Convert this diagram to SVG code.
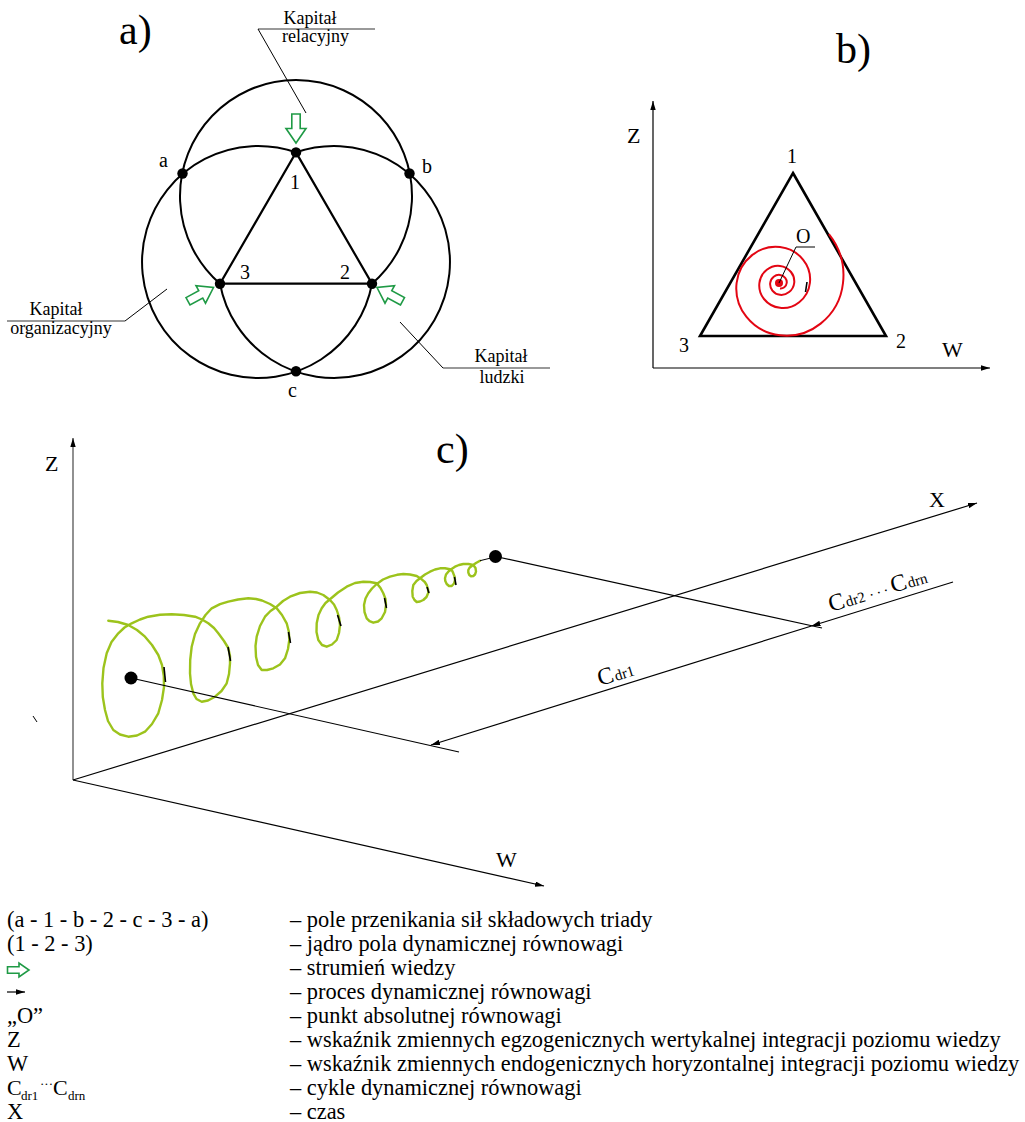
<svg xmlns="http://www.w3.org/2000/svg" width="1025" height="1122" viewBox="0 0 1025 1122" font-family="Liberation Serif, Times New Roman, serif">
<defs>
<style>
text, tspan{font-family:'Liberation Serif','Times New Roman',serif;fill:#000}
.c{fill:none;stroke:#000;stroke-width:2}
.tri{fill:none;stroke:#000;stroke-width:2.2;stroke-linejoin:miter}
.ln{fill:none;stroke:#000;stroke-width:1.2}
.lead{fill:none;stroke:#000;stroke-width:1}
.shelf{fill:none;stroke:#777;stroke-width:1.6}
.ga{fill:#fff;stroke:#1f9a45;stroke-width:1.6;stroke-linejoin:miter}
.lbl{font-family:'Liberation Serif',serif;font-size:20px}
.cap{font-family:'Liberation Serif',serif;font-size:18px;text-anchor:middle}
.ttl{font-family:'Liberation Serif',serif;font-size:42px}
.ax{font-family:'Liberation Serif',serif;font-size:22px}
.leg{font-family:'Liberation Serif',serif;font-size:22.4px}
.tick{stroke:#000;stroke-width:1.6;fill:none}
</style>
<marker id="ah" viewBox="0 0 10 6" refX="10" refY="3" markerWidth="9" markerHeight="5.4" markerUnits="userSpaceOnUse" orient="auto"><path d="M0,0 L10,3 L0,6 z" fill="#000"/></marker>
<path id="garrow" d="M-29,-4.2 H-14.5 V-10 L0,0 L-14.5,10 V4.2 H-29 Z"/>
</defs>
<rect width="1025" height="1122" fill="#fff"/>

<!-- ===== a) ===== -->
<g id="panel-a">
<text class="ttl" x="119" y="44">a)</text>
<g id="circle-relacyjny"><path class="c" d="M220,283.7 A116 116 0 1 1 372,283.7"/></g>
<g id="circle-organizacyjny"><path class="c" d="M296,152.4 A116 116 0 1 0 372,283.7"/></g>
<g id="circle-ludzki"><path class="c" d="M296,152.4 A116 116 0 1 1 220,283.7"/></g>
<g id="triangle-123"><path class="tri" d="M296,152.4 L372,283.7 L220,283.7 Z"/></g>
<g id="point-a"><circle cx="182.5" cy="173.5" r="5.2"/><text class="lbl" x="159" y="167">a</text></g>
<g id="point-b"><circle cx="409.5" cy="173.5" r="5.2"/><text class="lbl" x="422" y="173">b</text></g>
<g id="point-1"><circle cx="296" cy="152.4" r="5.2"/><text class="lbl" x="290" y="189">1</text></g>
<g id="point-2"><circle cx="372" cy="283.7" r="5.2"/><text class="lbl" x="340" y="279">2</text></g>
<g id="point-3"><circle cx="220" cy="283.7" r="5.2"/><text class="lbl" x="240" y="279">3</text></g>
<g id="point-c"><circle cx="296" cy="371.2" r="5.2"/><text class="lbl" x="288" y="397">c</text></g>
<g id="arrow-top"><use href="#garrow" class="ga" transform="translate(296,143) rotate(90)"/></g>
<g id="arrow-left"><use href="#garrow" class="ga" transform="translate(213.5,287.5) rotate(-28.4)"/></g>
<g id="arrow-right"><use href="#garrow" class="ga" transform="translate(377,287.5) rotate(208.4)"/></g>
<g id="label-relacyjny">
<line class="shelf" x1="258" y1="29" x2="375" y2="29"/>
<line class="lead" x1="258" y1="29" x2="306" y2="113"/>
<text class="cap" x="310" y="24">Kapitał</text>
<text class="cap" x="315.5" y="42">relacyjny</text>
</g>
<g id="label-organizacyjny">
<line class="shelf" x1="7" y1="321" x2="125" y2="321"/>
<line class="lead" x1="125" y1="321" x2="167" y2="289"/>
<text class="cap" x="56" y="315">Kapitał</text>
<text class="cap" x="61" y="334">organizacyjny</text>
</g>
<g id="label-ludzki">
<line class="shelf" x1="443" y1="368" x2="550" y2="368"/>
<line class="lead" x1="400" y1="322" x2="443" y2="368"/>
<text class="cap" x="501" y="362">Kapitał</text>
<text class="cap" x="502" y="383">ludzki</text>
</g>
</g>

<!-- ===== b) ===== -->
<g id="panel-b">
<text class="ttl" x="836" y="63">b)</text>
<g id="b-axes">
<line class="ln" x1="653" y1="368" x2="653" y2="101" marker-end="url(#ah)"/>
<line class="ln" x1="653" y1="368" x2="990" y2="368" marker-end="url(#ah)"/>
<text class="ax" x="627" y="143">Z</text>
<text class="ax" x="942" y="357">W</text>
</g>
<g id="b-triangle">
<path d="M793,173 L886,336 L700,336 Z" fill="none" stroke="#000" stroke-width="2.6"/>
<text class="lbl" x="787" y="163">1</text>
<text class="lbl" x="896" y="348">2</text>
<text class="lbl" x="679" y="352">3</text>
</g>
<g id="b-spiral">
<path fill="none" stroke="#e30613" stroke-width="2" d="M780,288.5 A5.8 5.8 0 0 0 784.3,287.3 A6.4 6.4 0 0 0 786.7,283 A7 7 0 0 0 785.2,277.8 A7.7 7.7 0 0 0 780,274.9 A8.5 8.5 0 0 0 773.7,276.7 A9.3 9.3 0 0 0 770.2,283 A10.2 10.2 0 0 0 772.4,290.6 A11.2 11.2 0 0 0 780,294.8 A12.3 12.3 0 0 0 789.1,292.1 A13.5 13.5 0 0 0 794.2,283 A14.9 14.9 0 0 0 791,272 A16.3 16.3 0 0 0 780,265.9 A17.9 17.9 0 0 0 766.8,269.8 A19.6 19.6 0 0 0 759.4,283 A21.6 21.6 0 0 0 764,299 A23.7 23.7 0 0 0 780,307.8 A26 26 0 0 0 799.2,302.2 A28.5 28.5 0 0 0 809.9,283 A31.3 31.3 0 0 0 803.2,259.8 A34.4 34.4 0 0 0 780,247 A37.7 37.7 0 0 0 752.1,255.1 A41.4 41.4 0 0 0 736.6,283 A45.5 45.5 0 0 0 746.3,316.7 A50 50 0 0 0 780,335.3 A54.8 54.8 0 0 0 820.6,323.6 A60.2 60.2 0 0 0 843,283 A66.1 66.1 0 0 0 828.9,234.1"/>
<circle cx="779" cy="283" r="4" fill="#e30613"/>
<line class="tick" x1="807" y1="282" x2="805.5" y2="292"/>
</g>
<g id="b-point-O">
<polyline class="lead" points="779,283 796,247 815,247"/>
<text class="lbl" x="796" y="243" font-size="19">O</text>
</g>
</g>

<!-- ===== c) ===== -->
<g id="panel-c">
<text class="ttl" x="436" y="463">c)</text>
<g id="c-axes">
<line x1="73" y1="780" x2="73" y2="438" stroke="#555" stroke-width="1.3" marker-end="url(#ah)"/>
<line class="ln" x1="73" y1="780" x2="977" y2="503" marker-end="url(#ah)"/>
<line class="ln" x1="73" y1="780" x2="544" y2="886" marker-end="url(#ah)"/>
<text class="ax" x="45" y="471">Z</text>
<text class="ax" x="929" y="507">X</text>
<text class="ax" x="496" y="867">W</text>
<line class="lead" x1="33" y1="716" x2="37" y2="722"/>
</g>
<g id="c-helix">
<polyline fill="none" stroke="#9cc31c" stroke-width="2.4" stroke-linejoin="round" stroke-linecap="round" points="108.3,620.7 118,622 128.3,625 137,630 145,636.7 152,645 158.3,655 162,665 163.8,676 164,687 162,700 158.3,713.3 152,724 145,731.7 137,735.5 128.3,736.7 120,734.5 113.3,730 108,721 105,710 102.8,697 102.3,683.3 103.5,668 106.7,653.3 111.5,642 118.3,633.3 124.5,627.5 131.7,623.3 140,619.5 148.3,616.7 160,614.8 171.7,614.3 184,615 195,616.7 202,619.5 208.3,623.3 214,628 218.3,633.3 224,641 228.3,648 230,656 230,663.3 229,674 226.7,683.3 221.5,691 215,696.7 208,700.5 201.7,701.7 196.5,699 193.3,693.3 191,684 190,673.3 190.2,660 191.7,646.7 195,634 200,623.3 205.5,615 211.7,608.3 220,604.2 228.3,601.7 238,599.5 248.3,598.3 256,599 262,600.5 270,604 276.7,608.3 282,615 286.7,623.3 288.8,631.5 289.3,640 288,649 285,658.3 280,664.5 273.3,668.3 267,670 261.7,670 258,665 256,656.7 255.5,646 256.7,636.7 260,626 265,616.7 270.5,611 276.7,606.7 283,601 290,596.7 300,593 310,591.7 317,592.5 323.3,595 330,600 334,604.5 336.7,610 339,617 340,625 339,633 336.7,640 332,644.5 326.7,646.7 322,645 318.3,640 316.5,632 316.7,623.3 318.5,615 321.7,608.3 325.5,603 330,599.3 338,592.5 346.7,586.7 355,583 363.3,581.7 370,582 376.7,583.3 380.5,588 383.3,593.3 385.5,599 386,605 385,612 381.7,618.3 378,621.5 373.3,622.7 369.5,621.2 366.7,618.3 364.5,612 364,605 365.5,598.5 368.3,593.3 372,588.5 376.7,584 383,579.5 390,576.7 397,574.8 403.3,574 410,574.5 416.7,576 421.7,579.3 424.8,582 426.7,585 428,589 428.3,592.7 426.5,597 423.3,600 420,601.5 416.7,602 414.5,600 412.7,596.7 412.3,591 413.3,585 416.5,581 420,578.3 425,574.5 430,571.7 435,569.5 440,568.3 445,568.3 450,569.3 452.3,571 453.3,573.3 454.5,576.5 455,580 454,583.5 451.7,586 449,586 446.7,584 445.3,581 445,578.3 446,574.5 448.3,571.7 451.5,569 455,566.7 459,565 463.3,564 468.5,564 473.3,565 475.5,568 476,571.7 475,574.5 473.3,576 471,576.3 469.3,575 468.3,572.5 468.3,570 469.5,567.8 471.7,566 476,563 480,560.7"/>
<line class="lead" x1="480" y1="560.7" x2="495" y2="557"/>
<line class="tick" x1="164" y1="667" x2="165.5" y2="682"/>
<line class="tick" x1="228" y1="647" x2="230.5" y2="661"/>
<line class="tick" x1="288.5" y1="632" x2="290.5" y2="643"/>
<line class="tick" x1="337.5" y1="615" x2="341" y2="626"/>
<line class="tick" x1="384.5" y1="598" x2="386.5" y2="608"/>
<line class="tick" x1="427" y1="587" x2="429" y2="593"/>
<line class="tick" x1="454.5" y1="577" x2="456" y2="585"/>
</g>
<g id="c-start-point"><circle cx="131" cy="678" r="6.5"/></g>
<g id="c-end-point"><circle cx="495.5" cy="556.5" r="6.5"/></g>
<g id="c-connectors">
<line class="ln" x1="131" y1="678" x2="459" y2="752"/>
<line class="ln" x1="495.5" y1="556.5" x2="822" y2="628"/>
<line class="ln" x1="953" y1="582" x2="811.5" y2="626" marker-end="url(#ah)"/>
<line class="ln" x1="811.5" y1="626" x2="431" y2="745" marker-end="url(#ah)"/>
</g>
<g id="c-label-cdr1">
<text class="ax" transform="rotate(-17 600 686)" x="600" y="686"><tspan font-size="24">C</tspan><tspan font-size="15" dx="1">dr1</tspan></text>
</g>
<g id="c-label-cdrn">
<text class="ax" transform="rotate(-17 831 612)" x="831" y="612"><tspan font-size="24">C</tspan><tspan font-size="15" dx="1">dr2</tspan><tspan font-size="15" dx="5" dy="-4">. . .</tspan><tspan font-size="24" dx="4" dy="4">C</tspan><tspan font-size="15" dx="1">drn</tspan></text>
</g>
</g>

<!-- ===== legend ===== -->
<g id="legend">
<text class="leg" x="7" y="927">(a - 1 - b - 2 - c - 3 - a)</text>
<text class="leg" x="290" y="927">– pole przenikania sił składowych triady</text>
<text class="leg" x="7" y="951">(1 - 2 - 3)</text>
<text class="leg" x="290" y="951">– jądro pola dynamicznej równowagi</text>
<path class="ga" d="M7.5,966.8 H19 V963 L29,970 L19,977 V973.2 H7.5 Z"/>
<text class="leg" x="290" y="975">– strumień wiedzy</text>
<line class="ln" x1="7" y1="992" x2="25" y2="992" marker-end="url(#ah)"/>
<text class="leg" x="290" y="999">– proces dynamicznej równowagi</text>
<text class="leg" x="7" y="1023">„O”</text>
<text class="leg" x="290" y="1023">– punkt absolutnej równowagi</text>
<text class="leg" x="7" y="1047">Z</text>
<text class="leg" x="290" y="1047">– wskaźnik zmiennych egzogenicznych wertykalnej integracji poziomu wiedzy</text>
<text class="leg" x="7" y="1071">W</text>
<text class="leg" x="290" y="1071">– wskaźnik zmiennych endogenicznych horyzontalnej integracji poziomu wiedzy</text>
<text class="leg" x="7" y="1095"><tspan font-size="22">C</tspan><tspan x="21" y="1100" font-size="13">dr1</tspan><tspan x="40" y="1088" font-size="13">···</tspan><tspan x="53" y="1095" font-size="22">C</tspan><tspan x="68" y="1100" font-size="13">drn</tspan></text>
<text class="leg" x="290" y="1095">– cykle dynamicznej równowagi</text>
<text class="leg" x="7" y="1119">X</text>
<text class="leg" x="290" y="1119">– czas</text>
</g>
</svg>
